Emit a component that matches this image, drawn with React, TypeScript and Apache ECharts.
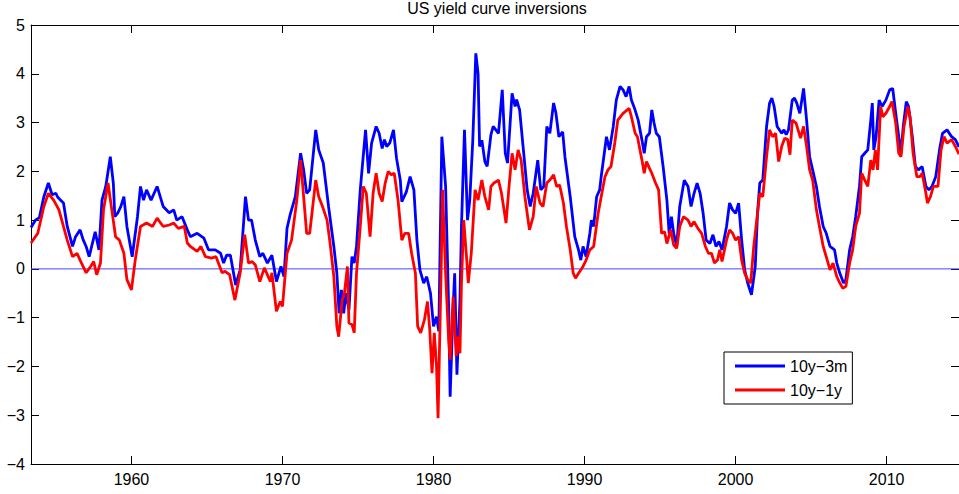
import React, { useEffect, useRef } from "react";
import * as echarts from "echarts";

// Monthly-ish spreads (percentage points) of the 10-year Treasury yield over
// the 3-month bill and over the 1-year note, keyed by decimal year.
const spread10y3m: [number, number][] = [
  [1953.35, 0.85], [1953.65, 1.0], [1953.9, 1.05], [1954.2, 1.48], [1954.5, 1.76], [1954.75, 1.52],
  [1955.0, 1.55], [1955.1, 1.48], [1955.3, 1.41], [1955.5, 1.35], [1955.75, 0.87], [1956.1, 0.46],
  [1956.3, 0.66], [1956.6, 0.8], [1956.8, 0.6], [1957.0, 0.46], [1957.2, 0.25], [1957.6, 0.76],
  [1957.85, 0.39], [1958.05, 1.41], [1958.3, 1.69], [1958.6, 2.3], [1958.8, 1.76], [1958.9, 1.07],
  [1959.1, 1.15], [1959.3, 1.28], [1959.5, 1.48], [1959.7, 0.87], [1960.05, 0.25], [1960.4, 1.07],
  [1960.6, 1.69], [1960.8, 1.41], [1961.0, 1.62], [1961.3, 1.41], [1961.7, 1.69], [1962.1, 1.28],
  [1962.5, 1.15], [1962.8, 1.21], [1963.0, 1.0], [1963.35, 1.07], [1963.7, 0.8], [1963.9, 0.66],
  [1964.35, 0.73], [1964.8, 0.63], [1965.1, 0.39], [1965.55, 0.39], [1965.9, 0.32], [1966.1, 0.12],
  [1966.3, 0.28], [1966.55, 0.28], [1966.9, -0.33], [1967.2, -0.02], [1967.55, 1.48], [1967.75, 1.0],
  [1967.95, 1.0], [1968.2, 0.59], [1968.5, 0.25], [1968.7, 0.32], [1969.0, 0.12], [1969.3, 0.28],
  [1969.6, -0.26], [1969.9, 0.05], [1970.1, -0.16], [1970.3, 0.83], [1970.5, 1.1], [1970.85, 1.48],
  [1971.2, 2.37], [1971.4, 2.03], [1971.6, 1.55], [1971.8, 1.62], [1972.2, 2.85], [1972.4, 2.44],
  [1972.7, 2.17], [1973.05, 1.28], [1973.4, 0.46], [1973.6, -0.09], [1973.75, -0.91], [1973.9, -0.43],
  [1974.05, -0.91], [1974.2, -0.5], [1974.4, -0.84], [1974.6, 0.25], [1974.75, 0.12], [1974.9, 0.46],
  [1975.15, 1.62], [1975.5, 2.85], [1975.7, 1.96], [1975.9, 2.58], [1976.2, 2.92], [1976.4, 2.78],
  [1976.6, 2.47], [1976.75, 2.65], [1976.9, 2.51], [1977.1, 2.58], [1977.35, 2.85], [1977.55, 2.27],
  [1977.8, 1.82], [1977.9, 1.38], [1978.2, 1.58], [1978.45, 1.89], [1978.7, 1.62], [1978.9, 0.59],
  [1979.1, -0.02], [1979.35, -0.29], [1979.55, -0.16], [1979.8, -0.5], [1980.0, -1.18], [1980.2, -0.98],
  [1980.35, -1.28], [1980.55, 2.71], [1980.8, 1.69], [1981.0, -0.77], [1981.1, -2.62], [1981.3, -0.77],
  [1981.4, -0.09], [1981.55, -2.17], [1981.75, -0.64], [1981.85, 0.87], [1982.05, 2.85], [1982.25, 1.0],
  [1982.4, 1.41], [1982.6, 2.64], [1982.8, 4.42], [1982.95, 4.0], [1983.05, 2.51], [1983.2, 2.64],
  [1983.4, 2.2], [1983.55, 2.1], [1983.8, 2.75], [1983.95, 2.92], [1984.3, 2.78], [1984.55, 3.67],
  [1984.75, 2.37], [1984.9, 2.17], [1985.2, 3.6], [1985.4, 3.33], [1985.5, 3.47], [1985.7, 3.26],
  [1985.95, 2.44], [1986.2, 1.62], [1986.4, 1.28], [1986.6, 1.55], [1986.9, 2.23], [1987.1, 1.62],
  [1987.3, 1.69], [1987.5, 2.92], [1987.7, 2.78], [1987.95, 3.4], [1988.1, 3.2], [1988.3, 2.71],
  [1988.55, 2.81], [1988.7, 2.3], [1989.05, 1.48], [1989.35, 0.66], [1989.6, 0.39], [1989.75, 0.18],
  [1989.9, 0.46], [1990.1, 0.25], [1990.35, 0.73], [1990.45, 1.0], [1990.6, 0.87], [1990.8, 1.48],
  [1991.0, 1.62], [1991.1, 1.89], [1991.45, 2.71], [1991.65, 2.44], [1991.9, 2.92], [1992.1, 3.46],
  [1992.35, 3.74], [1992.55, 3.67], [1992.75, 3.53], [1992.95, 3.74], [1993.1, 3.46], [1993.3, 3.3],
  [1993.55, 3.05], [1993.8, 2.64], [1993.95, 2.37], [1994.1, 2.71], [1994.3, 2.78], [1994.45, 3.26],
  [1994.6, 2.99], [1994.75, 2.78], [1994.95, 2.71], [1995.2, 2.1], [1995.45, 1.41], [1995.6, 0.73],
  [1995.75, 1.07], [1995.9, 0.73], [1996.1, 0.46], [1996.3, 1.28], [1996.6, 1.82], [1996.85, 1.69],
  [1997.05, 1.28], [1997.25, 1.55], [1997.45, 1.76], [1997.65, 1.55], [1997.85, 1.14], [1998.05, 0.59],
  [1998.3, 0.52], [1998.5, 0.7], [1998.7, 0.46], [1998.9, 0.56], [1999.1, 0.39], [1999.4, 0.87],
  [1999.6, 1.35], [1999.8, 1.21], [2000.0, 1.14], [2000.2, 1.35], [2000.4, 0.59], [2000.6, -0.02],
  [2000.8, -0.29], [2001.05, -0.53], [2001.3, 0.05], [2001.45, 1.14], [2001.6, 1.76], [2001.8, 1.82],
  [2002.05, 2.92], [2002.25, 3.4], [2002.4, 3.5], [2002.55, 3.33], [2002.75, 2.92], [2003.05, 2.78],
  [2003.2, 2.85], [2003.35, 2.75], [2003.5, 2.85], [2003.75, 3.46], [2003.9, 3.5], [2004.05, 3.4],
  [2004.25, 3.19], [2004.5, 3.7], [2004.7, 3.05], [2004.9, 2.3], [2005.1, 2.03], [2005.35, 1.69],
  [2005.55, 1.28], [2005.8, 0.87], [2006.0, 0.73], [2006.25, 0.46], [2006.55, 0.39], [2006.7, 0.12],
  [2006.9, -0.09], [2007.15, -0.29], [2007.3, -0.22], [2007.55, 0.39], [2007.75, 0.66], [2007.95, 1.07],
  [2008.2, 1.69], [2008.35, 2.3], [2008.55, 2.37], [2008.75, 2.44], [2008.95, 3.05], [2009.05, 3.4],
  [2009.15, 2.44], [2009.3, 2.71], [2009.5, 3.46], [2009.7, 3.33], [2009.95, 3.46], [2010.2, 3.67],
  [2010.4, 3.7], [2010.6, 3.19], [2010.8, 2.71], [2010.95, 2.37], [2011.1, 2.92], [2011.3, 3.43],
  [2011.45, 3.33], [2011.7, 2.71], [2011.9, 2.1], [2012.1, 2.03], [2012.35, 2.1], [2012.6, 1.69],
  [2012.8, 1.62], [2013.0, 1.69], [2013.25, 1.89], [2013.5, 2.44], [2013.7, 2.78], [2014.0, 2.85],
  [2014.3, 2.71], [2014.55, 2.65], [2014.79, 2.5],
];

const spread10y1y: [number, number][] = [
  [1953.35, 0.53], [1953.8, 0.73], [1954.2, 1.28], [1954.5, 1.55], [1954.85, 1.41], [1955.2, 1.21],
  [1955.5, 0.87], [1955.75, 0.59], [1956.1, 0.25], [1956.4, 0.32], [1956.6, 0.18], [1957.0, -0.08],
  [1957.3, 0.05], [1957.5, 0.15], [1957.7, -0.12], [1957.95, 0.12], [1958.15, 1.21], [1958.45, 1.76],
  [1958.7, 1.21], [1958.95, 0.66], [1959.2, 0.59], [1959.5, 0.32], [1959.7, -0.22], [1960.0, -0.43],
  [1960.25, 0.18], [1960.6, 0.87], [1961.0, 0.94], [1961.4, 0.87], [1961.7, 1.04], [1962.1, 0.87],
  [1962.5, 0.9], [1962.8, 0.94], [1963.1, 0.83], [1963.5, 0.87], [1963.7, 0.53], [1963.9, 0.46],
  [1964.35, 0.36], [1964.6, 0.46], [1964.9, 0.25], [1965.3, 0.22], [1965.6, 0.25], [1966.0, -0.08],
  [1966.2, -0.05], [1966.5, -0.12], [1966.85, -0.64], [1967.2, -0.08], [1967.5, 0.7], [1967.75, 0.12],
  [1968.0, 0.15], [1968.2, 0.08], [1968.5, -0.26], [1968.8, 0.02], [1969.2, -0.26], [1969.3, -0.08],
  [1969.6, -0.87], [1969.85, -0.67], [1970.0, -0.77], [1970.3, 0.32], [1970.6, 0.59], [1970.95, 1.41],
  [1971.2, 2.23], [1971.4, 1.48], [1971.6, 0.73], [1971.8, 0.73], [1972.05, 1.41], [1972.2, 1.82],
  [1972.4, 1.48], [1972.65, 1.28], [1972.95, 1.0], [1973.15, 0.53], [1973.4, -0.16], [1973.6, -1.18],
  [1973.72, -1.39], [1973.95, -0.64], [1974.1, -0.5], [1974.3, 0.05], [1974.4, -1.11], [1974.6, -1.14],
  [1974.75, -1.31], [1974.9, -0.09], [1975.15, 0.87], [1975.35, 1.69], [1975.55, 1.55], [1975.8, 0.66],
  [1976.0, 1.55], [1976.2, 1.96], [1976.4, 1.55], [1976.6, 1.38], [1976.8, 1.76], [1977.0, 2.0],
  [1977.2, 1.93], [1977.4, 1.96], [1977.65, 1.41], [1977.9, 0.59], [1978.1, 0.73], [1978.35, 0.73],
  [1978.55, 0.32], [1978.8, -0.09], [1978.95, -1.18], [1979.15, -1.31], [1979.4, -1.04], [1979.6, -0.67],
  [1979.75, -1.25], [1979.9, -2.14], [1980.05, -1.31], [1980.2, -2.0], [1980.3, -3.06], [1980.5, -0.09],
  [1980.6, 1.62], [1980.8, -0.09], [1981.0, -1.45], [1981.1, -1.86], [1981.3, -0.57], [1981.5, -1.79],
  [1981.6, -1.39], [1981.75, -1.73], [1981.85, -0.29], [1982.0, 1.0], [1982.2, 0.18], [1982.3, -0.29],
  [1982.5, 0.32], [1982.75, 1.62], [1982.95, 1.41], [1983.2, 1.82], [1983.4, 1.48], [1983.65, 1.21],
  [1983.8, 1.69], [1984.0, 1.76], [1984.3, 1.82], [1984.5, 1.55], [1984.8, 0.94], [1985.0, 1.69],
  [1985.2, 2.37], [1985.4, 2.03], [1985.6, 2.44], [1985.8, 2.23], [1986.05, 1.48], [1986.35, 0.8],
  [1986.6, 1.07], [1986.8, 1.69], [1987.05, 1.35], [1987.25, 1.28], [1987.5, 1.76], [1987.7, 1.82],
  [1987.95, 1.93], [1988.15, 1.69], [1988.35, 1.72], [1988.6, 1.35], [1988.8, 0.87], [1989.05, 0.39],
  [1989.25, -0.09], [1989.4, -0.19], [1989.6, -0.09], [1989.9, 0.05], [1990.1, 0.18], [1990.35, 0.39],
  [1990.6, 0.46], [1990.9, 1.14], [1991.1, 1.48], [1991.35, 1.89], [1991.55, 2.03], [1991.75, 2.1],
  [1992.0, 2.58], [1992.2, 3.05], [1992.55, 3.19], [1992.95, 3.29], [1993.1, 3.12], [1993.35, 2.78],
  [1993.5, 2.71], [1993.8, 2.23], [1993.95, 1.96], [1994.1, 2.2], [1994.3, 2.06], [1994.45, 1.96],
  [1994.7, 1.76], [1994.9, 1.62], [1995.1, 0.73], [1995.3, 0.76], [1995.45, 0.52], [1995.7, 0.8],
  [1995.9, 0.49], [1996.1, 0.42], [1996.3, 0.87], [1996.55, 1.07], [1996.85, 1.0], [1997.05, 0.87],
  [1997.25, 0.97], [1997.5, 0.83], [1997.75, 0.73], [1998.0, 0.46], [1998.2, 0.32], [1998.4, 0.32],
  [1998.6, 0.12], [1998.8, 0.18], [1998.95, 0.39], [1999.1, 0.15], [1999.4, 0.59], [1999.6, 0.8],
  [1999.8, 0.73], [2000.0, 0.59], [2000.2, 0.66], [2000.4, 0.18], [2000.6, -0.09], [2000.8, -0.22],
  [2001.0, -0.29], [2001.2, 0.46], [2001.4, 1.0], [2001.6, 1.55], [2001.8, 1.48], [2002.05, 2.3],
  [2002.25, 2.85], [2002.45, 2.71], [2002.65, 2.78], [2002.85, 2.2], [2003.05, 2.51], [2003.25, 2.68],
  [2003.45, 2.65], [2003.6, 2.34], [2003.75, 3.05], [2004.0, 2.99], [2004.3, 2.68], [2004.5, 2.92],
  [2004.7, 2.51], [2004.9, 2.03], [2005.1, 1.82], [2005.35, 1.21], [2005.55, 0.87], [2005.8, 0.46],
  [2006.0, 0.25], [2006.25, -0.02], [2006.45, 0.12], [2006.7, -0.16], [2006.9, -0.29], [2007.1, -0.4],
  [2007.3, -0.36], [2007.55, 0.12], [2007.75, 0.39], [2007.95, 0.87], [2008.2, 1.14], [2008.35, 1.96],
  [2008.55, 1.82], [2008.75, 1.69], [2008.95, 2.23], [2009.1, 2.03], [2009.25, 2.44], [2009.4, 2.03],
  [2009.6, 3.33], [2009.75, 3.12], [2009.95, 3.19], [2010.2, 3.33], [2010.35, 3.43], [2010.6, 2.99],
  [2010.8, 2.37], [2010.95, 2.3], [2011.15, 2.92], [2011.4, 3.33], [2011.55, 3.12], [2011.75, 2.37],
  [2012.0, 1.89], [2012.2, 1.89], [2012.35, 1.96], [2012.6, 1.55], [2012.7, 1.35], [2012.9, 1.48],
  [2013.1, 1.69], [2013.4, 1.69], [2013.6, 2.44], [2013.8, 2.71], [2014.0, 2.58], [2014.3, 2.65],
  [2014.55, 2.51], [2014.79, 2.35],
];

const yearTicks = [1960, 1970, 1980, 1990, 2000, 2010];
const seriesNames = ["10y\u22123m", "10y\u22121y"];

const X_MIN = 1953.35;
const X_MAX = 2014.79;
const FONT = "'Liberation Sans', Arial, Helvetica, sans-serif";

export default function App() {
  const ref = useRef<HTMLDivElement>(null);

  useEffect(() => {
    if (!ref.current) return;
    const chart = echarts.init(ref.current, undefined, { renderer: "svg" });

    const axisLine = { show: true, onZero: false, lineStyle: { color: "#000", width: 1 } };
    const tick = { show: true, inside: true, length: 8, lineStyle: { color: "#000", width: 1 } };
    const minus = (v: number) => String(v).replace("-", "\u2212");

    chart.setOption({
      animation: false,
      backgroundColor: "#fff",
      title: {
        text: "US yield curve inversions",
        left: 497,
        top: 0,
        padding: 0,
        textAlign: "center",
        textStyle: { fontFamily: FONT, fontSize: 16, fontWeight: "normal", color: "#000" },
      },
      legend: {
        data: seriesNames,
        orient: "vertical",
        left: 724,
        top: 352,
        padding: [5, 5, 5, 11],
        itemGap: 6,
        itemWidth: 50,
        itemHeight: 3,
        icon: "rect",
        borderColor: "#000",
        borderWidth: 1,
        backgroundColor: "#fff",
        textStyle: { fontFamily: FONT, fontSize: 16, color: "#000", lineHeight: 18 },
      },
      grid: { left: 31, top: 25, right: -1, bottom: 30, containLabel: false },
      xAxis: [
        {
          type: "value",
          min: X_MIN,
          max: X_MAX,
          position: "bottom",
          axisLine,
          axisTick: { ...tick, customValues: yearTicks },
          axisLabel: {
            customValues: yearTicks,
            margin: 7,
            fontFamily: FONT,
            fontSize: 16,
            color: "#000",
            formatter: (v: number) => String(Math.round(v)),
          },
          splitLine: { show: false },
        },
        {
          type: "value",
          min: X_MIN,
          max: X_MAX,
          position: "top",
          axisLine,
          axisTick: { ...tick, customValues: yearTicks },
          axisLabel: { show: false },
          splitLine: { show: false },
        },
      ],
      yAxis: [
        {
          type: "value",
          min: -4,
          max: 5,
          interval: 1,
          position: "left",
          axisLine,
          axisTick: tick,
          axisLabel: { margin: 6, fontFamily: FONT, fontSize: 16, color: "#000", formatter: minus },
          splitLine: { show: false },
        },
        {
          type: "value",
          min: -4,
          max: 5,
          interval: 1,
          position: "right",
          axisLine,
          axisTick: tick,
          axisLabel: { show: false },
          splitLine: { show: false },
        },
      ],
      series: [
        {
          // horizontal reference at zero spanning the full x-range
          name: "zero",
          type: "line",
          data: [
            [X_MIN, 0],
            [X_MAX, 0],
          ],
          showSymbol: false,
          silent: true,
          z: 1,
          lineStyle: { color: "#4646ff", width: 1 },
          itemStyle: { color: "#4646ff" },
        },
        {
          name: seriesNames[0],
          type: "line",
          data: spread10y3m,
          showSymbol: false,
          z: 3,
          lineStyle: { color: "#0000ff", width: 2.8 },
          itemStyle: { color: "#0000ff" },
        },
        {
          name: seriesNames[1],
          type: "line",
          data: spread10y1y,
          showSymbol: false,
          z: 4,
          lineStyle: { color: "#ff0000", width: 2.8 },
          itemStyle: { color: "#ff0000" },
        },
      ],
    });

    return () => chart.dispose();
  }, []);

  return (
    <div
      ref={ref}
      style={{ position: "fixed", left: 0, top: 0, width: 959, height: 494, background: "#fff" }}
    />
  );
}
